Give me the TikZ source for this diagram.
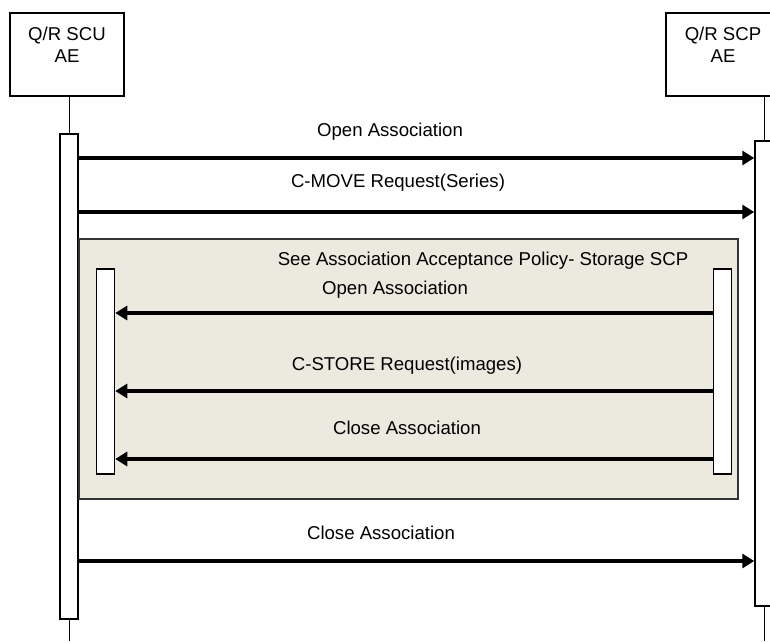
\documentclass[tikz,border=0pt]{standalone}
\usepackage{fontspec}
\setmainfont{Liberation Sans}
\usetikzlibrary{arrows.meta,positioning}

\begin{document}
\begin{tikzpicture}[x=1pt,y=-1pt]
        \tikzset{
            head/.style={draw, line width=1.5pt, minimum width=114pt, minimum height=83pt, inner sep=0pt, anchor=north},
            actbar/.style={draw, line width=1.5pt, fill=white, minimum width=18pt, inner sep=0pt, anchor=north},
            life/.style={line width=1pt},
            msg/.style={line width=3.5pt, -{Triangle[length=12pt,width=14pt]}},
            lbl/.style={font=\fontsize{18.6}{22}\selectfont, inner sep=0pt}
        }
        \definecolor{policybg}{RGB}{236,233,223}
        \useasboundingbox (0,0) rectangle (770,641);
        % heads
        \node[head] (scu) at (67,12) {};
        \node[lbl, align=center, below=15pt of scu.north] (scutxt) {Q/R SCU\\AE};
        \node[head] (scp) at (723,12) {};
        \node[lbl, align=center, below=15pt of scp.north] (scptxt) {Q/R SCP\\AE};
        % lifelines
        \node[actbar, minimum height=485pt] (scubar) at (69,133) {};
        \node[actbar, minimum height=465pt] (scpbar) at (764,140) {};
        \coordinate (scuend) at (69,641);
        \coordinate (scpend) at (764,641);
        \draw[life] (scubar.north |- scu.south) to (scubar.north);
        \draw[life] (scubar.south) to (scuend);
        \draw[life] (scpbar.north |- scp.south) to (scpbar.north);
        \draw[life] (scpbar.south) to (scpend);
        % storage sub-operation
        \node[draw=black!80, line width=1.5pt, fill=policybg, minimum width=659pt, minimum height=260pt, inner sep=0pt, anchor=north west] (policy) at (78,238) {};
        \node[actbar, minimum height=205pt] (stscp) at (105.5,268) {};
        \node[actbar, minimum height=205pt] (stscu) at (722.5,268) {};
        % messages
        \draw[msg] (scubar.east |- 0,158) to (scpbar.west |- 0,158);
        \draw[msg] (scubar.east |- 0,212) to (scpbar.west |- 0,212);
        \draw[msg] (stscu.west |- 0,313) to (stscp.east |- 0,313);
        \draw[msg] (stscu.west |- 0,391) to (stscp.east |- 0,391);
        \draw[msg] (stscu.west |- 0,459) to (stscp.east |- 0,459);
        \draw[msg] (scubar.east |- 0,561) to (scpbar.west |- 0,561);
        % labels
        \node[lbl] (open) at (390,132) {Open Association};
        \node[lbl] (move) at (398,183) {C-MOVE Request(Series)};
        \node[lbl] (see) at (483,261) {See Association Acceptance Policy- Storage SCP};
        \node[lbl] (stopen) at (395,290) {Open Association};
        \node[lbl] (store) at (407,366) {C-STORE Request(images)};
        \node[lbl] (stclose) at (407,428) {Close Association};
        \node[lbl] (close) at (381,533) {Close Association};
    \end{tikzpicture}
\end{document}
